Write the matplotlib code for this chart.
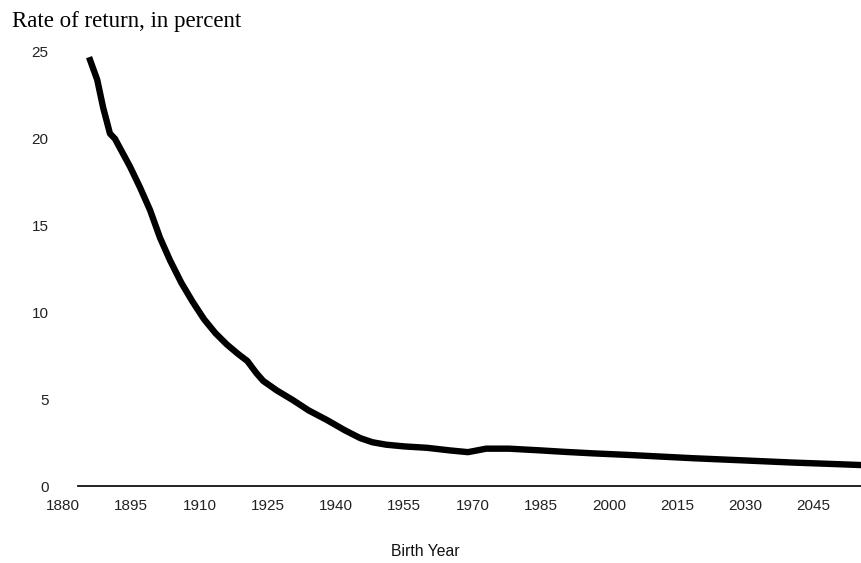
import numpy as np
import matplotlib
matplotlib.use("Agg")
from matplotlib import pyplot as plt

# --- data
birth_year = [1885.7, 1887.5, 1888.8, 1890.3, 1891.4, 1894.7, 1896.9, 1899.1, 1901.3,
              1903.5, 1906.0, 1908.5, 1911.0, 1913.5, 1916.0, 1918.5, 1920.5, 1922.5,
              1924.0, 1927.0, 1930.5, 1934.0, 1938.0, 1942.0, 1945.3, 1948.0,
              1951, 1955, 1960, 1965, 1969, 1973, 1978, 1985, 1990, 1996.5,
              2005, 2018.5, 2030, 2040.4, 2050, 2056]
rate_of_return = [24.7, 23.4, 21.8, 20.3, 20.0, 18.4, 17.2, 15.9, 14.3,
                  13.0, 11.7, 10.6, 9.6, 8.8, 8.15, 7.6, 7.2, 6.5,
                  6.05, 5.5, 4.95, 4.35, 3.8, 3.2, 2.76, 2.52,
                  2.38, 2.28, 2.2, 2.05, 1.95, 2.15, 2.15, 2.05, 1.97, 1.88,
                  1.78, 1.6, 1.47, 1.35, 1.26, 1.2]
x_ticks = [1880, 1895, 1910, 1925, 1940, 1955, 1970, 1985, 2000, 2015, 2030, 2045]
y_ticks = [0, 5, 10, 15, 20, 25]

W, H = 861, 563
fig = plt.figure(figsize=(W / 100, H / 100), dpi=100)
ax = fig.add_axes([54 / W, (H - 486) / H, 1 - 54 / W, (486 - 34.6) / H])

ax.plot(birth_year, rate_of_return, color='black', lw=4.6, solid_capstyle='butt',
        solid_joinstyle='round', clip_on=False)

ax.set_xlim(1878, 2055.4)
ax.set_ylim(0, 26)
ax.set_xticks(x_ticks)
ax.set_yticks(y_ticks)

for s in ['top', 'right', 'left']:
    ax.spines[s].set_visible(False)
ax.spines['bottom'].set_bounds(1883.3, 2060)
ax.spines['bottom'].set_linewidth(1.3)
ax.spines['bottom'].set_color('#111111')

ax.tick_params(axis='both', length=0, labelsize=11, labelcolor='#222222')
ax.tick_params(axis='x', pad=9)
ax.tick_params(axis='y', pad=4)
for lab in ax.get_xticklabels() + ax.get_yticklabels():
    lab.set_fontfamily('Liberation Sans')

fig.text(12 / W, 1 - 22 / H, 'Rate of return, in percent', ha='left', va='center',
         fontsize=16.5, family='Liberation Serif')
fig.text(425 / W, 1 - 552 / H, 'Birth Year', ha='center', va='center',
         fontsize=11.3, family='Liberation Sans', color='#111111')

fig.savefig('out.png', dpi=100)
